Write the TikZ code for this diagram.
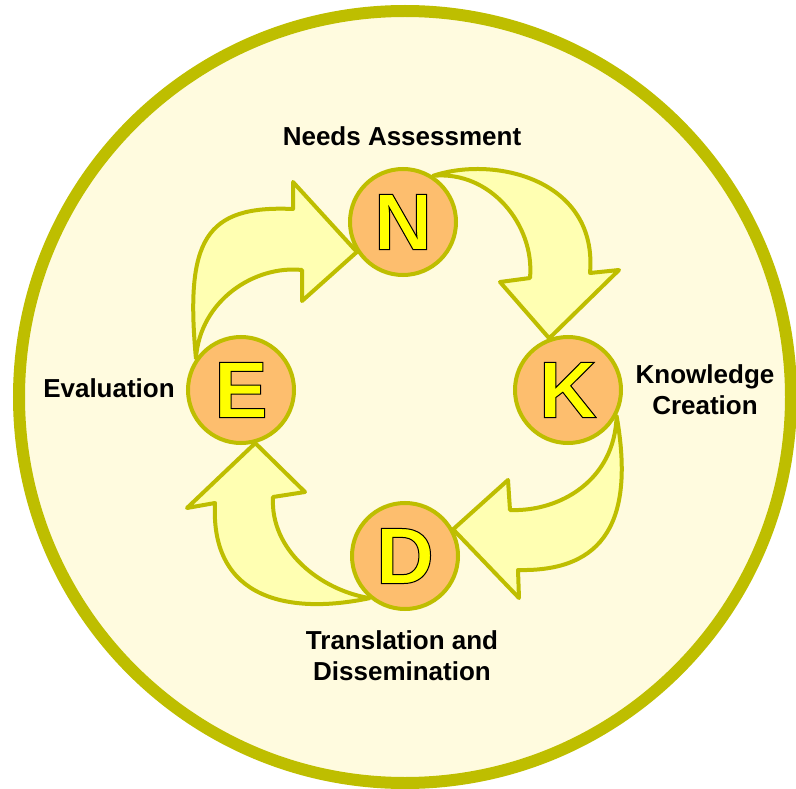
\documentclass[tikz,border=0pt]{standalone}
\usepackage{fontspec}
\setmainfont{Liberation Sans}
\usetikzlibrary{backgrounds}
\definecolor{ringolive}{RGB}{190,190,0}
\definecolor{cream}{RGB}{255,251,223}
\definecolor{phaseorange}{RGB}{253,190,110}
\definecolor{arrowyellow}{RGB}{255,255,178}
\definecolor{letteryellow}{RGB}{255,255,0}
% yellow letter with a thin black outline (fill and stroke render mode)
\newcommand{\phaseletter}[1]{\textcolor{letteryellow}{\special{pdf:literal direct 0 0 0 RG 1 w 2 Tr}#1\special{pdf:literal direct 0 Tr}}}
\begin{document}
\begin{tikzpicture}[x=1pt,y=-1pt,
    phase/.style = {circle,draw=ringolive,line width=4pt,fill=phaseorange,
                    minimum size=106pt,inner sep=0pt,
                    font=\fontsize{80}{80}\selectfont\bfseries},
    phasename/.style = {align=center,font=\fontsize{26}{31}\selectfont\bfseries},
    bigarrow/.style = {draw=ringolive,line width=4pt,fill=arrowyellow,line join=round}]
    \useasboundingbox (0,0) rectangle (796,789);

    \node[phase] (N) at (403,222) {\phaseletter{N}};
    \node[phase] (K) at (568,390) {\phaseletter{K}};
    \node[phase] (D) at (405,556) {\phaseletter{D}};
    \node[phase] (E) at (241,390) {\phaseletter{E}};

    \node[phasename] (na) at (402,136) {Needs Assessment};
    \node[phasename] (kc) at (705,390) {Knowledge\\Creation};
    \node[phasename] (td) at (402,656) {Translation and\\Dissemination};
    \node[phasename] (ev) at (109,388) {Evaluation};

    \begin{scope}[on background layer]
        \draw[line width=12pt,draw=ringolive,fill=cream] (405,397) circle[radius=386pt];
        % E to N
        \draw[bigarrow] (E.145) .. controls (185,240) and (205,205) .. (293,209)
            -- (293,182) -- (N.213) -- (302,301) -- (302,270)
            .. controls (255,265) and (200,300) .. (E.145) -- cycle;
        % N to K
        \draw[bigarrow] (N.57) .. controls (495,155) and (598,180) .. (590,273)
            -- (619,270) -- (K.110) -- (500,282) -- (530,278)
            .. controls (535,225) and (490,170) .. (N.57) -- cycle;
        % K to D
        \draw[bigarrow] (K.-28) .. controls (635,520) and (605,572) .. (518,570)
            -- (519,598) -- (D.29) -- (508,480) -- (510,510)
            .. controls (560,512) and (615,480) .. (K.-28) -- cycle;
        % D to E
        \draw[bigarrow] (D.230) .. controls (290,615) and (210,600) .. (215,503)
            -- (187,508) -- (E.-75) -- (305,492) -- (273,497)
            .. controls (270,550) and (320,590) .. (D.230) -- cycle;
    \end{scope}
\end{tikzpicture}
\end{document}
